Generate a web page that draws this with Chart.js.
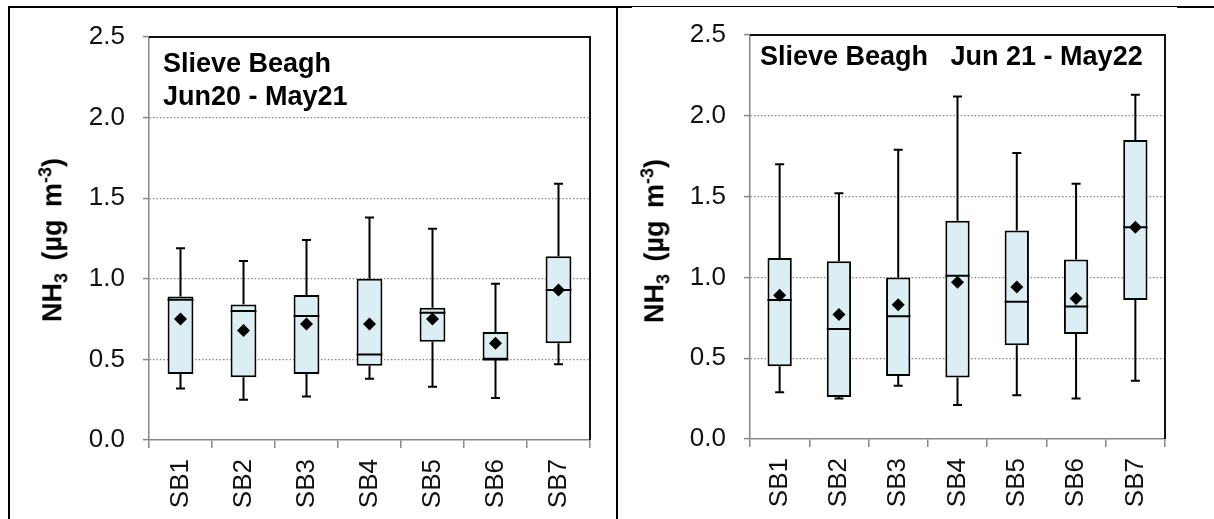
<!DOCTYPE html>
<html>
<head>
<meta charset="utf-8">
<script src="https://cdn.jsdelivr.net/npm/chart.js@4.4.1/dist/chart.umd.min.js"></script>
<style>
  body { margin: 0; background: #fff; width: 1214px; height: 519px; overflow: hidden; position: relative; font-family: "Liberation Sans", Arial, sans-serif; }
  canvas { position: absolute; top: 0; }
  .rule { position: absolute; background: #000; }
  .ytitle { position: absolute; font-weight: bold; font-size: 27px; word-spacing: 5px; white-space: nowrap; color: #000;
            transform: translate(-50%, -50%) rotate(-90deg); }
  .ytitle sub, .ytitle sup { font-size: 18px; }
  .note { position: absolute; font-weight: bold; font-size: 27px; line-height: 33px; white-space: nowrap; color: #000; }
</style>
</head>
<body>
<div class="rule" style="left:8px;top:6px;width:2px;height:513px"></div>
<div class="rule" style="left:8px;top:6px;width:624px;height:2px"></div>
<div class="rule" style="left:632px;top:6px;width:545px;height:1px"></div>
<div class="rule" style="left:1177px;top:6px;width:37px;height:2px"></div>
<div class="rule" style="left:616px;top:6px;width:2px;height:513px"></div>

<canvas id="c1" width="606" height="519" style="left:10px"></canvas>
<canvas id="c2" width="596" height="519" style="left:618px"></canvas>

<div class="ytitle" style="left:54px;top:240px">NH<sub>3</sub> (µg m<sup>-3</sup>)</div>
<div class="ytitle" style="left:656px;top:241px">NH<sub>3</sub> (µg m<sup>-3</sup>)</div>
<div class="note" style="left:163px;top:47px">Slieve Beagh<br>Jun20 - May21</div>
<div class="note" style="left:760px;top:40px">Slieve Beagh&nbsp;&nbsp; Jun 21 - May22</div>

<script>
const sites = ['SB1', 'SB2', 'SB3', 'SB4', 'SB5', 'SB6', 'SB7']
const yTicks = [0, 0.5, 1.0, 1.5, 2.0, 2.5]

// Jun20 - May21
const min20 = [0.32, 0.25, 0.27, 0.38, 0.33, 0.26, 0.47]
const q1_20 = [0.41, 0.39, 0.41, 0.46, 0.61, 0.50, 0.60]
const med20 = [0.87, 0.80, 0.77, 0.53, 0.79, 0.50, 0.93]
const q3_20 = [0.89, 0.84, 0.90, 1.00, 0.82, 0.67, 1.14]
const max20 = [1.19, 1.11, 1.24, 1.38, 1.31, 0.97, 1.59]
const mean20 = [0.75, 0.68, 0.72, 0.72, 0.75, 0.60, 0.93]

// Jun21 - May22
const min21 = [0.29, 0.25, 0.33, 0.21, 0.27, 0.25, 0.36]
const q1_21 = [0.45, 0.26, 0.39, 0.38, 0.58, 0.65, 0.86]
const med21 = [0.86, 0.68, 0.76, 1.01, 0.85, 0.82, 1.31]
const q3_21 = [1.12, 1.10, 1.00, 1.35, 1.29, 1.11, 1.85]
const max21 = [1.70, 1.52, 1.79, 2.12, 1.77, 1.58, 2.13]
const mean21 = [0.89, 0.77, 0.83, 0.97, 0.94, 0.87, 1.31]

// whiskers + median line, drawn right after the boxes
const boxParts = {
    id: 'boxParts',
    afterDatasetDraw(chart, args, opts) {
        if (args.index !== 0) return
        const ctx = chart.ctx
        const y = chart.scales.y
        const meta = chart.getDatasetMeta(0)
        ctx.save()
        ctx.strokeStyle = '#000'
        ctx.lineWidth = 2
        meta.data.forEach((bar, i) => {
            const x = bar.x
            const hw = bar.width / 2
            const yMin = y.getPixelForValue(opts.min[i])
            const yMax = y.getPixelForValue(opts.max[i])
            const yQ1 = y.getPixelForValue(opts.q1[i])
            const yQ3 = y.getPixelForValue(opts.q3[i])
            const yMed = y.getPixelForValue(opts.med[i])
            ctx.beginPath()
            ctx.moveTo(x, yQ3); ctx.lineTo(x, yMax)
            ctx.moveTo(x - 4.5, yMax); ctx.lineTo(x + 4.5, yMax)
            ctx.moveTo(x, yQ1); ctx.lineTo(x, yMin)
            ctx.moveTo(x - 4.5, yMin); ctx.lineTo(x + 4.5, yMin)
            ctx.moveTo(x - hw, yMed); ctx.lineTo(x + hw, yMed)
            ctx.stroke()
        })
        ctx.restore()
    }
}

// black top and right edges of the plot frame
const frameEdges = {
    id: 'frameEdges',
    afterDraw(chart) {
        const {ctx, chartArea: a} = chart
        ctx.save()
        ctx.strokeStyle = '#111'
        ctx.lineWidth = 2
        ctx.beginPath()
        ctx.moveTo(a.left, a.top); ctx.lineTo(a.right, a.top); ctx.lineTo(a.right, a.bottom)
        ctx.stroke()
        ctx.restore()
    }
}

function makeChart(id, mn, q1, med, q3, mx, mean, pad, yWidth, xHeight) {
    new Chart(document.getElementById(id), {
        type: 'bar',
        data: {
            labels: sites,
            datasets: [{
                label: 'IQR',
                data: q1.map((v, i) => [v, q3[i]]),
                backgroundColor: '#daeef3',
                borderColor: '#000',
                borderWidth: 2,
                borderSkipped: false,
                barPercentage: 0.41,
                categoryPercentage: 1,
                order: 1
            }, {
                type: 'line',
                label: 'Mean',
                data: mean,
                showLine: false,
                pointStyle: 'rectRot',
                pointRadius: 6.5,
                pointBackgroundColor: '#000',
                pointBorderColor: '#000',
                pointBorderWidth: 0,
                order: 0
            }]
        },
        options: {
            responsive: false,
            animation: false,
            devicePixelRatio: 1,
            layout: { padding: pad },
            plugins: {
                legend: { display: false },
                tooltip: { enabled: false },
                boxParts: { min: mn, q1: q1, med: med, q3: q3, max: mx }
            },
            scales: {
                x: {
                    offset: true,
                    afterFit: s => { s.height = xHeight },
                    grid: { offset: true, drawOnChartArea: false, drawTicks: true, tickLength: 8, color: '#888', lineWidth: 1.5 },
                    border: { display: true, color: '#888', width: 1.5 },
                    ticks: {
                        minRotation: 90, maxRotation: 90, padding: 11,
                        color: '#111',
                        font: { family: '"Liberation Sans", Arial, sans-serif', size: 26 }
                    }
                },
                y: {
                    min: 0, max: 2.5,
                    afterFit: s => { s.width = yWidth },
                    afterBuildTicks: s => { s.ticks = yTicks.map(v => ({ value: v })) },
                    grid: {
                        color: c => (c.tick && (c.tick.value === 0 || c.tick.value === 2.5)) ? 'rgba(0,0,0,0)' : '#8a8a8a',
                        lineWidth: 1.2,
                        tickColor: '#888',
                        tickLength: 6,
                        tickWidth: 1.5
                    },
                    border: { display: true, color: '#888', width: 1.5, dash: [1.5, 2] },
                    ticks: {
                        padding: 18,
                        color: '#111',
                        callback: v => v.toFixed(1),
                        font: { family: '"Liberation Sans", Arial, sans-serif', size: 26 }
                    }
                }
            }
        },
        plugins: [boxParts, frameEdges]
    })
}

makeChart('c1', min20, q1_20, med20, q3_20, max20, mean20, { left: 20, top: 37, right: 26, bottom: 0 }, 119, 79)
makeChart('c2', min21, q1_21, med21, q3_21, max21, mean21, { left: 13, top: 35, right: 49, bottom: 0 }, 119, 80)
</script>
</body>
</html>
